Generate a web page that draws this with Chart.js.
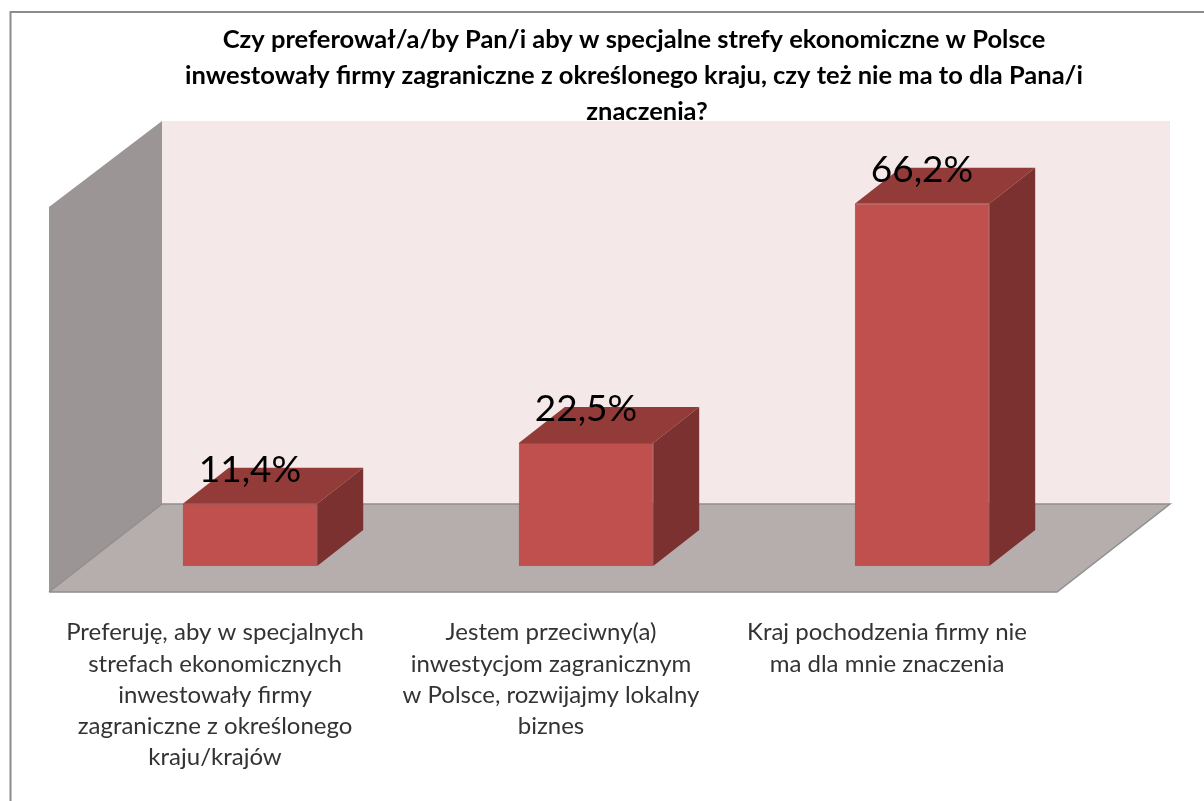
<!DOCTYPE html>
<html lang="pl">
<head>
<meta charset="utf-8">
<title>Strefy ekonomiczne</title>
<script src="https://cdn.jsdelivr.net/npm/chart.js@4"></script>
<style>
  html,body{ margin:0; padding:0; background:#fff; }
  canvas{ display:block; filter:blur(0.5px); }
</style>
</head>
<body>
<canvas id="chartStrefy" width="1204" height="801"></canvas>
<script>
// dane
const categories = [
  ['Preferuję, aby w specjalnych','strefach ekonomicznych','inwestowały firmy','zagraniczne z określonego','kraju/krajów'],
  ['Jestem przeciwny(a)','inwestycjom zagranicznym','w Polsce, rozwijajmy lokalny','biznes'],
  ['Kraj pochodzenia firmy nie','ma dla mnie znaczenia']
];
const values = [11.4, 22.5, 66.2];
const valueLabels = ['11,4%', '22,5%', '66,2%'];
const titleLines = [
  'Czy preferował/a/by Pan/i aby w specjalne strefy ekonomiczne w Polsce',
  'inwestowały firmy zagraniczne z określonego kraju, czy też nie ma to dla Pana/i',
  'znaczenia?'
];

const COLORS = {
  wall:'#f5e8e8', side:'#9c9595', floor:'#b6adad', edge:'#8f8f8f',
  front:'#c0504d', frontBorder:'#a84644', top:'#933b39', right:'#7a312f',
  text:'#000', label:'#333', frame:'#8c8c8c'
};
const FONT = 'Lato, sans-serif';

// przesuniecia rzutu 3D wzgledem chartArea
const WALL_DX = 80, WALL_DY = 62;   // tylna sciana
const FLOOR_DX = 33, FLOOR_DY = 26; // przednia krawedz podlogi
const BAR_DX = 46, BAR_DY = 36;     // glebokosc slupka
const TITLE_X = [634, 634, 647];    // ostatnia linia tytulu jest przesunieta

function poly(ctx, pts, fill){
  ctx.beginPath();
  pts.forEach((p,i)=> i ? ctx.lineTo(p[0],p[1]) : ctx.moveTo(p[0],p[1]));
  ctx.closePath();
  ctx.fillStyle = fill;
  ctx.fill();
}

const scene3d = {
  id:'scene3d',
  beforeDatasetsDraw(chart){
    const {ctx, chartArea:a} = chart;
    ctx.save();
    // ramka
    ctx.strokeStyle = COLORS.frame; ctx.lineWidth = 2;
    ctx.beginPath(); ctx.moveTo(1204,12); ctx.lineTo(10.5,12); ctx.lineTo(10.5,801); ctx.stroke();

    const bl = a.left + WALL_DX, br = a.right + WALL_DX;
    const bt = a.top - WALL_DY, bb = a.bottom - WALL_DY;
    const fl = a.left - FLOOR_DX, fr = a.right - FLOOR_DX;
    const ft = a.top + FLOOR_DY - 2, fb = a.bottom + FLOOR_DY;

    poly(ctx, [[bl,bt],[br,bt],[br,bb],[bl,bb]], COLORS.wall);
    poly(ctx, [[fl,ft],[bl,bt],[bl,bb],[fl,fb]], COLORS.side);
    poly(ctx, [[fl,fb],[bl,bb],[br,bb],[fr,fb]], COLORS.floor);
    ctx.strokeStyle = COLORS.edge; ctx.lineWidth = 1.5;
    ctx.beginPath(); ctx.moveTo(fl,fb); ctx.lineTo(bl,bb); ctx.lineTo(br,bb); ctx.lineTo(fr,fb); ctx.lineTo(fl,fb); ctx.stroke();

    // gorna i boczna sciana slupkow, z pozycji elementow Chart.js
    chart.getDatasetMeta(0).data.forEach(bar=>{
      const l = bar.x - bar.width/2, r = bar.x + bar.width/2;
      poly(ctx, [[l,bar.y],[l+BAR_DX,bar.y-BAR_DY],[r+BAR_DX,bar.y-BAR_DY],[r,bar.y]], COLORS.top);
      poly(ctx, [[r,bar.y],[r+BAR_DX,bar.y-BAR_DY],[r+BAR_DX,bar.base-BAR_DY],[r,bar.base]], COLORS.right);
    });
    ctx.restore();
  },
  afterDatasetsDraw(chart){
    const {ctx} = chart;
    ctx.save();
    ctx.textAlign = 'center';
    ctx.textBaseline = 'alphabetic';

    // tytul, srodek przesuniety wzgledem wykresu
    ctx.fillStyle = COLORS.text;
    ctx.font = 'bold 25.5px '+FONT;
    titleLines.forEach((t,i)=> ctx.fillText(t, TITLE_X[i], 48 + i*36));

    // wartosci nad slupkami
    ctx.font = '37px '+FONT;
    chart.getDatasetMeta(0).data.forEach((bar,i)=> ctx.fillText(valueLabels[i], bar.x, bar.y - 22));
    ctx.restore();
  }
};

new Chart(document.getElementById('chartStrefy').getContext('2d'),{
  type:'bar',
  data:{
    labels:categories,
    datasets:[{
      data:values, backgroundColor:COLORS.front, borderColor:COLORS.frontBorder, borderWidth:1,
      barPercentage:0.4, categoryPercentage:1
    }]
  },
  options:{
    responsive:false, animation:false,
    layout:{ padding:{ left:82, right:114, top:183, bottom:0 } },
    plugins:{ legend:{display:false}, title:{display:false}, tooltip:{enabled:false} },
    scales:{
      x:{
        grid:{display:false}, border:{display:false},
        afterFit:s=>{ s.height=235; },
        ticks:{
          color:COLORS.label, font:{ family:FONT, size:24, lineHeight:1.3 },
          padding:43, labelOffset:-35, maxRotation:0, minRotation:0, autoSkip:false
        }
      },
      y:{ display:false, min:0, max:70 }
    }
  },
  plugins:[scene3d]
});
</script>
</body>
</html>
